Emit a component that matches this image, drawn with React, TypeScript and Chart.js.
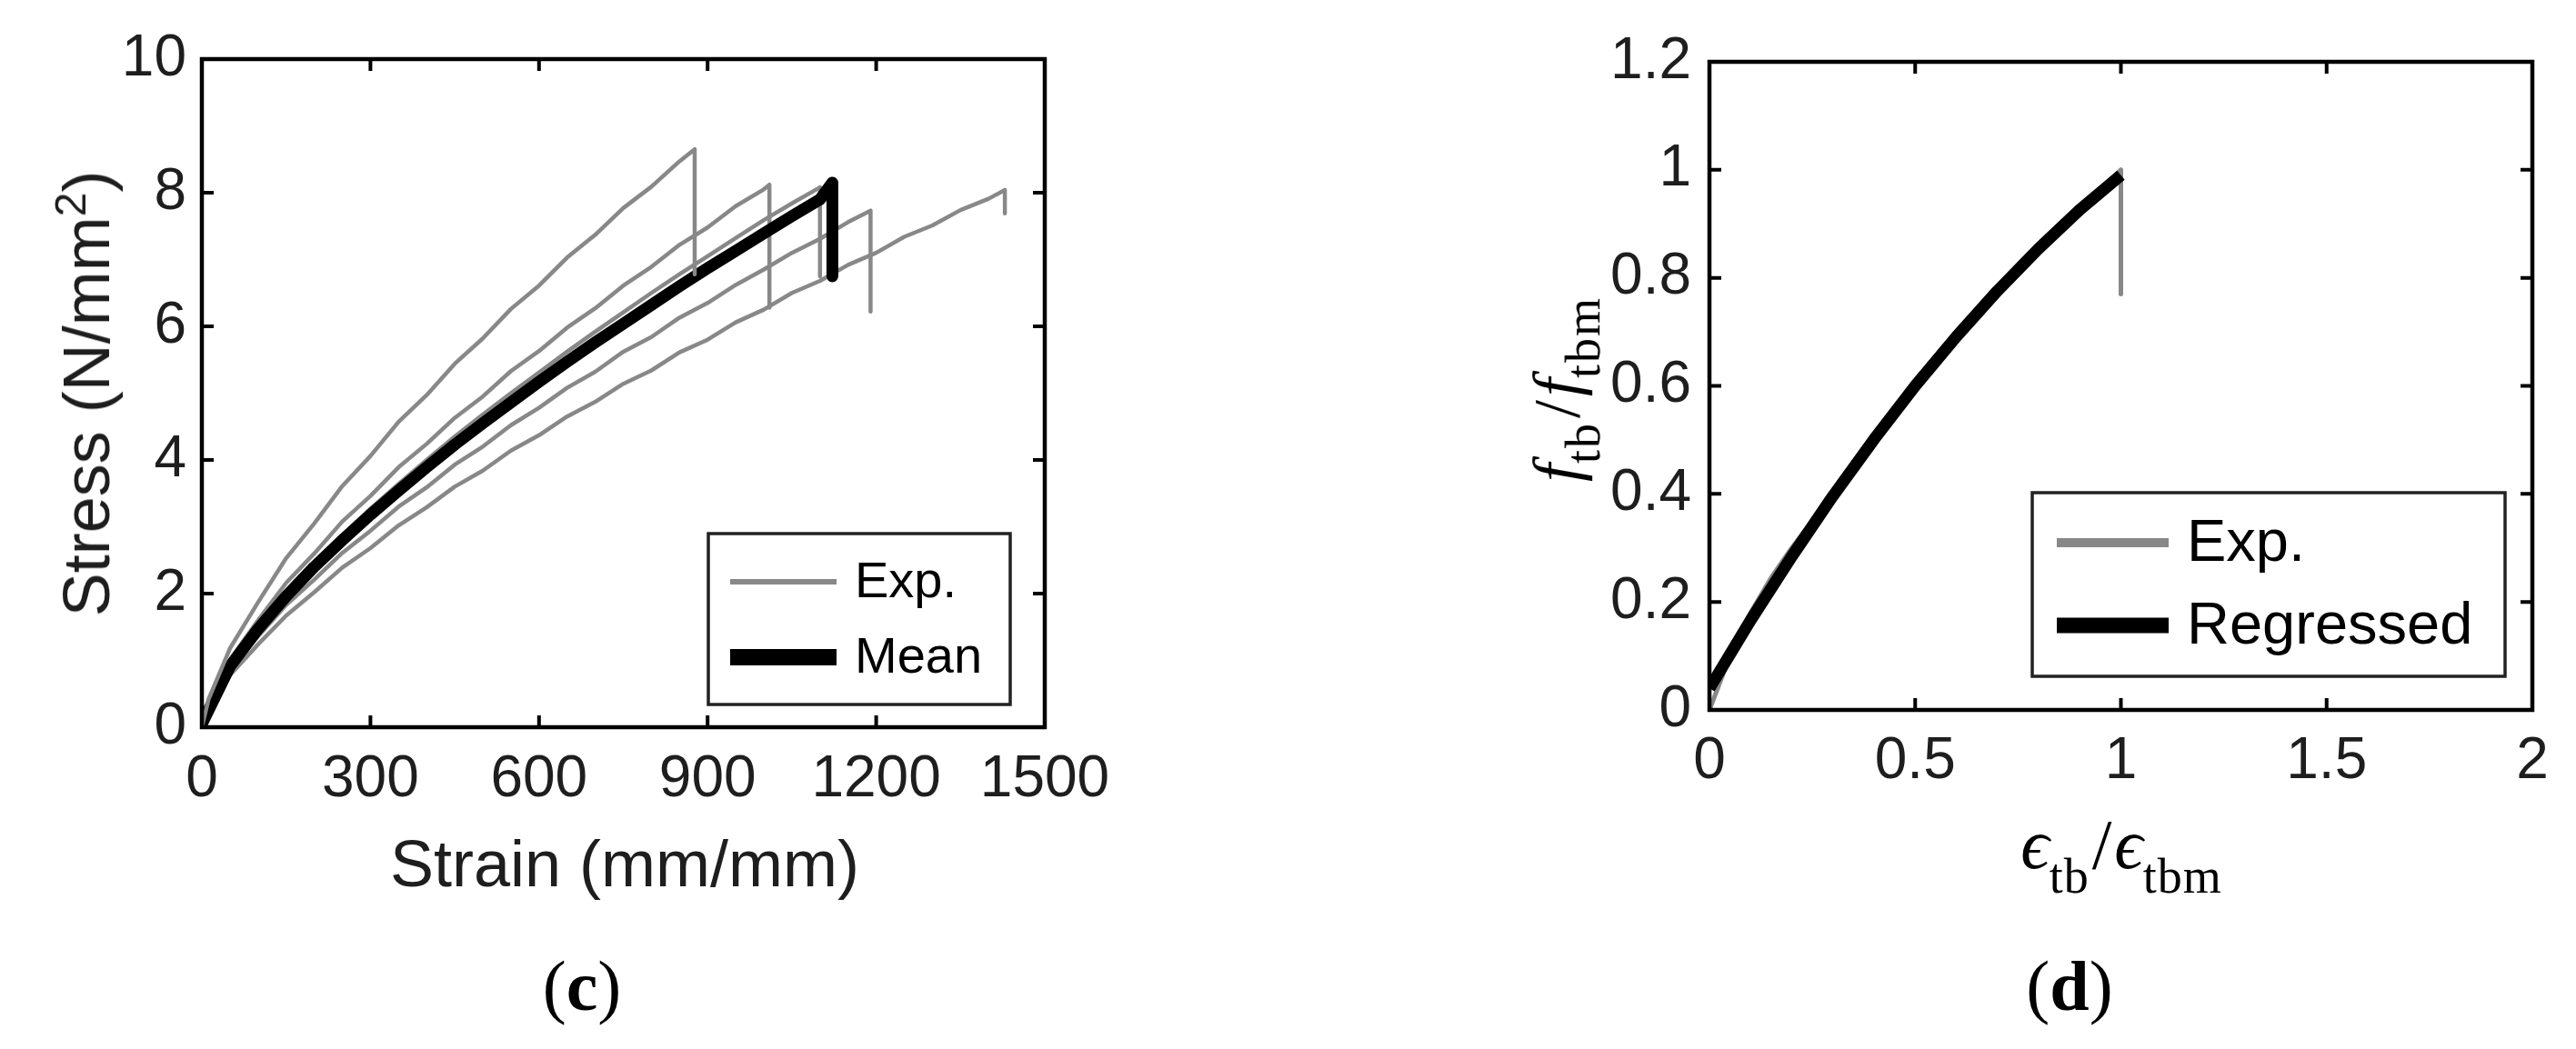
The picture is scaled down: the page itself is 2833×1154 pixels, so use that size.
import React, { useEffect, useRef } from "react";
import { Chart, registerables } from "chart.js";

Chart.register(...registerables);

// ---------------- Panel (c): stress–strain curves ----------------
const strainA = [0, 12, 50, 100, 150, 200, 250, 300, 350, 400, 450, 500, 550, 600, 650, 700, 750, 800, 850, 877, 877];
const stressA = [0, 0.42, 1.18, 1.87, 2.53, 3.05, 3.61, 4.06, 4.57, 4.97, 5.44, 5.82, 6.26, 6.61, 7.03, 7.37, 7.77, 8.09, 8.47, 8.65, 6.78];

const strainB = [0, 10, 50, 100, 150, 200, 250, 300, 350, 400, 450, 500, 550, 600, 650, 700, 750, 800, 850, 900, 950, 1000, 1010, 1010];
const stressB = [0, 0.3, 1.01, 1.6, 2.16, 2.6, 3.08, 3.46, 3.89, 4.24, 4.63, 4.95, 5.33, 5.63, 5.98, 6.27, 6.61, 6.89, 7.22, 7.48, 7.8, 8.05, 8.12, 6.28];

const strainC = [0, 10, 50, 100, 150, 200, 250, 300, 350, 400, 450, 500, 550, 600, 650, 700, 750, 800, 850, 900, 950, 1000, 1050, 1100, 1100];
const stressC = [0, 0.28, 0.94, 1.52, 2.02, 2.46, 2.88, 3.27, 3.64, 4.0, 4.35, 4.68, 5.0, 5.31, 5.62, 5.92, 6.21, 6.5, 6.78, 7.05, 7.32, 7.59, 7.84, 8.08, 6.75];

const strainD = [0, 15, 50, 100, 150, 200, 250, 300, 350, 400, 450, 500, 550, 600, 650, 700, 750, 800, 850, 900, 950, 1000, 1050, 1100, 1150, 1190, 1190];
const stressD = [0, 0.3, 0.86, 1.36, 1.83, 2.21, 2.61, 2.94, 3.3, 3.59, 3.93, 4.2, 4.52, 4.78, 5.08, 5.32, 5.62, 5.84, 6.13, 6.35, 6.62, 6.85, 7.1, 7.31, 7.56, 7.73, 6.22];

const strainE = [0, 15, 50, 100, 150, 200, 250, 300, 350, 400, 450, 500, 550, 600, 650, 700, 750, 800, 850, 900, 950, 1000, 1050, 1100, 1150, 1200, 1250, 1300, 1350, 1400, 1429, 1429];
const stressE = [0, 0.25, 0.78, 1.24, 1.67, 2.02, 2.39, 2.68, 3.02, 3.29, 3.6, 3.84, 4.14, 4.37, 4.65, 4.87, 5.14, 5.34, 5.61, 5.8, 6.06, 6.25, 6.5, 6.68, 6.92, 7.1, 7.34, 7.51, 7.74, 7.91, 8.04, 7.69];

const strainMean = [0, 50, 100, 150, 200, 250, 300, 350, 400, 450, 500, 550, 600, 650, 700, 750, 800, 850, 900, 950, 1000, 1050, 1100, 1122, 1122];
const stressMean = [0.05, 0.91, 1.47, 1.96, 2.4, 2.8, 3.18, 3.54, 3.89, 4.23, 4.55, 4.86, 5.17, 5.47, 5.76, 6.04, 6.32, 6.6, 6.87, 7.13, 7.39, 7.65, 7.9, 8.15, 6.75];

const strainTicks = [0, 300, 600, 900, 1200, 1500];
const stressTicks = [0, 2, 4, 6, 8, 10];

// ---------------- Panel (d): normalised curves ----------------
const expRatioX = [0, 0.01, 0.03, 0.06, 0.1, 0.15, 0.2, 0.25, 0.3, 0.4, 0.5, 0.6, 0.7, 0.8, 0.9, 1.0, 1.0];
const expRatioY = [0, 0.02, 0.06, 0.12, 0.18, 0.245, 0.3, 0.35, 0.398, 0.5, 0.598, 0.688, 0.772, 0.852, 0.928, 1.0, 0.77];

const regRatioX = [0, 0.1, 0.2, 0.3, 0.4, 0.5, 0.6, 0.7, 0.8, 0.9, 1.0];
const regRatioY = [0.04, 0.166, 0.284, 0.396, 0.501, 0.6, 0.691, 0.776, 0.854, 0.926, 0.99];

const ratioTicksX = [0, 0.5, 1, 1.5, 2];
const ratioTicksY = [0, 0.2, 0.4, 0.6, 0.8, 1, 1.2];

const GRAY = "#888888";
const INK = "#000000";
const TEXT = "#1e1e1e";
const SANS = '"Liberation Sans", Arial, Helvetica, sans-serif';
const SERIF = '"Liberation Serif", "DejaVu Serif", "Times New Roman", serif';

const pts = (xs: number[], ys: number[]) => xs.map((x, i) => ({ x, y: ys[i] }));
const fmt = (v: number) => String(Number(Number(v).toFixed(2)));

const framePlugin = {
  id: "frame",
  afterDatasetsDraw(chart: any, _args: any, opts: any) {
    const { ctx, chartArea: a, scales } = chart;
    const xs = scales.x;
    const ys = scales.y;
    ctx.save();
    ctx.strokeStyle = INK;
    ctx.lineWidth = opts.tickWidth;
    ctx.beginPath();
    xs.ticks.forEach((t: any) => {
      const p = xs.getPixelForValue(t.value);
      ctx.moveTo(p, a.bottom);
      ctx.lineTo(p, a.bottom - opts.tickLen);
      ctx.moveTo(p, a.top);
      ctx.lineTo(p, a.top + opts.tickLen);
    });
    ys.ticks.forEach((t: any) => {
      const p = ys.getPixelForValue(t.value);
      ctx.moveTo(a.left, p);
      ctx.lineTo(a.left + opts.tickLen, p);
      ctx.moveTo(a.right, p);
      ctx.lineTo(a.right - opts.tickLen, p);
    });
    ctx.stroke();
    ctx.lineWidth = opts.frameWidth;
    ctx.strokeRect(a.left, a.top, a.right - a.left, a.bottom - a.top);

    const lg = opts.legend;
    ctx.fillStyle = "#ffffff";
    ctx.fillRect(lg.x1, lg.y1, lg.x2 - lg.x1, lg.y2 - lg.y1);
    ctx.strokeStyle = "#222222";
    ctx.lineWidth = lg.borderWidth;
    ctx.strokeRect(lg.x1, lg.y1, lg.x2 - lg.x1, lg.y2 - lg.y1);
    lg.items.forEach((it: any) => {
      const ds = chart.data.datasets[it.dataset];
      ctx.strokeStyle = ds.borderColor;
      ctx.lineWidth = it.lineWidth;
      ctx.lineCap = "butt";
      ctx.beginPath();
      ctx.moveTo(lg.lineX1, it.y);
      ctx.lineTo(lg.lineX2, it.y);
      ctx.stroke();
      ctx.fillStyle = "#000000";
      ctx.font = lg.font;
      ctx.textBaseline = "middle";
      ctx.textAlign = "left";
      ctx.fillText(ds.label, lg.textX, it.y + 2);
    });
    ctx.restore();
  },
};

function lineDs(label: string, data: any[], color: string, width: number) {
  return {
    label,
    data,
    borderColor: color,
    backgroundColor: color,
    borderWidth: width,
    pointRadius: 0,
    tension: 0,
    fill: false,
    borderJoinStyle: "round" as const,
    borderCapStyle: "butt" as const,
  };
}

function axisOptions(
  ticksArr: number[],
  min: number,
  max: number,
  size: number,
  horizontal: boolean,
  padding: number
) {
  return {
    type: "linear" as const,
    min,
    max,
    grid: { display: false, drawTicks: false },
    border: { display: false },
    afterBuildTicks: (s: any) => {
      s.ticks = ticksArr.map((v) => ({ value: v }));
    },
    afterFit: (s: any) => {
      if (horizontal) s.height = size;
      else s.width = size;
    },
    ticks: {
      color: TEXT,
      font: { family: SANS, size: 64 },
      padding,
      maxRotation: 0,
      autoSkip: false,
      callback: (v: any) => fmt(v),
    },
  };
}

function StressChart() {
  const ref = useRef<HTMLCanvasElement | null>(null);
  useEffect(() => {
    if (!ref.current) return;
    const chart = new Chart(ref.current, {
      type: "line",
      data: {
        datasets: [
          lineDs("Exp.", pts(strainA, stressA), GRAY, 4.5),
          lineDs("Mean", pts(strainMean, stressMean), INK, 13),
          lineDs("Exp.", pts(strainB, stressB), GRAY, 4.5),
          lineDs("Exp.", pts(strainC, stressC), GRAY, 4.5),
          lineDs("Exp.", pts(strainD, stressD), GRAY, 4.5),
          lineDs("Exp.", pts(strainE, stressE), GRAY, 4.5),
        ],
      },
      options: {
        animation: false,
        responsive: false,
        layout: { autoPadding: false, padding: { left: 0, top: 65, right: 151, bottom: 0 } },
        scales: {
          x: axisOptions(strainTicks, 0, 1500, 354, true, 20),
          y: axisOptions(stressTicks, 0, 10, 222, false, 17),
        },
        plugins: {
          legend: { display: false },
          tooltip: { enabled: false },
          frame: {
            tickLen: 13,
            tickWidth: 4,
            frameWidth: 4.5,
            legend: {
              x1: 779, y1: 587, x2: 1111, y2: 775,
              borderWidth: 3.5,
              lineX1: 803, lineX2: 920, textX: 940,
              font: `56px ${SANS}`,
              items: [
                { dataset: 0, y: 640, lineWidth: 6 },
                { dataset: 1, y: 723, lineWidth: 18 },
              ],
            },
          },
        } as any,
      },
      plugins: [framePlugin],
    });
    return () => chart.destroy();
  }, []);
  return <canvas ref={ref} width={1300} height={1154} style={{ position: "absolute", left: 0, top: 0, width: 1300, height: 1154 }} />;
}

function RatioChart() {
  const ref = useRef<HTMLCanvasElement | null>(null);
  useEffect(() => {
    if (!ref.current) return;
    const chart = new Chart(ref.current, {
      type: "line",
      data: {
        datasets: [
          lineDs("Regressed", pts(regRatioX, regRatioY), INK, 13),
          lineDs("Exp.", pts(expRatioX, expRatioY), GRAY, 5),
        ],
      },
      options: {
        animation: false,
        responsive: false,
        layout: { autoPadding: false, padding: { left: 0, top: 68, right: 48, bottom: 0 } },
        scales: {
          x: axisOptions(ratioTicksX, 0, 2, 373, true, 19),
          y: axisOptions(ratioTicksY, 0, 1.2, 580, false, 20),
        },
        plugins: {
          legend: { display: false },
          tooltip: { enabled: false },
          frame: {
            tickLen: 13,
            tickWidth: 4,
            frameWidth: 4.5,
            legend: {
              x1: 935, y1: 542, x2: 1455, y2: 744,
              borderWidth: 3.5,
              lineX1: 962, lineX2: 1085, textX: 1105,
              font: `65px ${SANS}`,
              items: [
                { dataset: 1, y: 597, lineWidth: 10 },
                { dataset: 0, y: 688, lineWidth: 17 },
              ],
            },
          },
        } as any,
      },
      plugins: [framePlugin],
    });
    return () => chart.destroy();
  }, []);
  return <canvas ref={ref} width={1533} height={1154} style={{ position: "absolute", left: 1300, top: 0, width: 1533, height: 1154 }} />;
}

const centered = (x: number, y: number, extra: any = {}) => ({
  position: "absolute" as const,
  left: x,
  top: y,
  transform: "translate(-50%, -50%)",
  whiteSpace: "nowrap" as const,
  color: "#000",
  lineHeight: 1,
  ...extra,
});

export default function App() {
  useEffect(() => {
    document.body.style.margin = "0";
  }, []);
  const subX = { fontSize: 54, fontStyle: "normal", verticalAlign: "-0.5em", letterSpacing: 1 };
  const subY = { fontSize: 54, fontStyle: "normal", verticalAlign: "-0.42em", letterSpacing: 2 };
  return (
    <div style={{ position: "absolute", left: 0, top: 0, width: 2833, height: 1154, background: "#fff", overflow: "hidden" }}>
      <StressChart />
      <RatioChart />
      <div style={centered(95, 433, { transform: "translate(-50%, -50%) rotate(-90deg)", fontFamily: SANS, fontSize: 72, color: TEXT })}>
        Stress (N/mm<sup style={{ fontSize: 48, verticalAlign: "0.55em", lineHeight: 0 }}>2</sup>)
      </div>
      <div style={centered(687, 950, { fontFamily: SANS, fontSize: 72, color: TEXT })}>Strain (mm/mm)</div>
      <div style={centered(640, 1085, { fontFamily: SERIF, fontSize: 78 })}>
        (<b>c</b>)
      </div>
      <div style={centered(2333, 940, { fontFamily: SERIF, fontSize: 78 })}>
        <i>ϵ</i>
        <span style={subX}>tb</span>
        <span style={{ margin: "0 3px" }}>/</span>
        <i>ϵ</i>
        <span style={subX}>tbm</span>
      </div>
      <div style={centered(1722, 428, { transform: "translate(-50%, -50%) rotate(-90deg)", fontFamily: SERIF, fontSize: 72 })}>
        <i>f</i>
        <span style={subY}>tb</span>
        <span style={{ margin: "0 4px" }}>/</span>
        <i>f</i>
        <span style={subY}>tbm</span>
      </div>
      <div style={centered(2276, 1085, { fontFamily: SERIF, fontSize: 78 })}>
        (<b>d</b>)
      </div>
    </div>
  );
}
